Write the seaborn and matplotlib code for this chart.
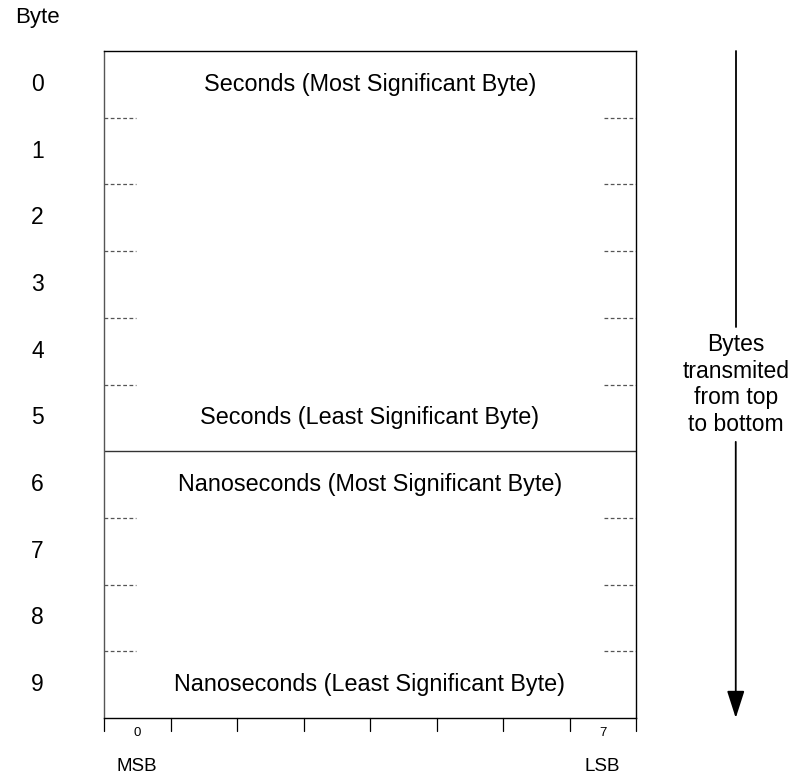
import matplotlib
matplotlib.use("Agg")
import matplotlib.pyplot as plt
import seaborn as sns

# byte layout of the timestamp field
byte_rows = [str(i) for i in range(10)]
field_rows = [0, 5, 6, 9]
field_text = ["Seconds (Most Significant Byte)",
              "Seconds (Least Significant Byte)",
              "Nanoseconds (Most Significant Byte)",
              "Nanoseconds (Least Significant Byte)"]
field_split = [6]          # solid line between seconds and nanoseconds
dashed_rows = [1, 2, 3, 4, 5, 7, 8, 9]
bit_ticks = list(range(9))
bit_labels = {0: "0", 7: "7"}
end_labels = {0: "MSB", 7: "LSB"}
arrow_text = "Bytes\ntransmited\nfrom top\nto bottom"

sns.set_theme(style="white")
plt.rcParams["font.family"] = ["Liberation Sans", "DejaVu Sans"]
plt.rcParams["text.color"] = "black"

W, H = 790, 775
fig = plt.figure(figsize=(W / 100, H / 100), dpi=100)
ax = fig.add_axes([104 / W, (H - 718) / H, (636 - 104) / W, (718 - 51) / H])
ax.set_xlim(0, 8)
ax.set_ylim(10, 0)
ax.set_xticks([])
ax.set_yticks([])
for side in ax.spines.values():
    side.set_color("black")
    side.set_linewidth(1.0)
ax.spines["left"].set_color("#555555")

# field names
for r, t in zip(field_rows, field_text):
    ax.text(4, r + 0.5, t, ha="center", va="center", fontsize=16.8)

# separators
for r in field_split:
    ax.plot([0, 8], [r, r], color="#333333", lw=1.0)
for r in dashed_rows:
    if r in field_split:
        continue
    ax.plot([0, 0.48], [r, r], color="#555555", lw=0.9, ls=(0, (3, 2)))
    ax.plot([7.52, 8], [r, r], color="#555555", lw=0.9, ls=(0, (3, 2)))

# row numbers
ax.text(-1, -0.5, "Byte", ha="center", va="center", fontsize=16, clip_on=False)
for i, lab in enumerate(byte_rows):
    ax.text(-1, i + 0.5, lab, ha="center", va="center", fontsize=16.5, clip_on=False)

# bit ticks under the box
for b in bit_ticks:
    ax.plot([b, b], [10, 10.19], color="black", lw=0.9, clip_on=False)
for b, lab in bit_labels.items():
    ax.text(b + 0.5, 10.23, lab, ha="center", va="center", fontsize=9.5, clip_on=False)
for b, lab in end_labels.items():
    ax.text(b + 0.5, 10.72, lab, ha="center", va="center", fontsize=13.5, clip_on=False)

# direction arrow, broken around its caption
ax.plot([9.5, 9.5], [0, 4.14], color="black", lw=1.3, clip_on=False)
ax.annotate("", xy=(9.5, 10), xytext=(9.5, 5.86), annotation_clip=False,
            arrowprops=dict(arrowstyle="-|>,head_length=1.4,head_width=0.45",
                            color="black", lw=1.3, shrinkA=0, shrinkB=0))
ax.text(9.5, 5.0, arrow_text, ha="center", va="center", fontsize=16.5,
        linespacing=1.2, clip_on=False)

fig.savefig("out.png", dpi=100, facecolor="white")
